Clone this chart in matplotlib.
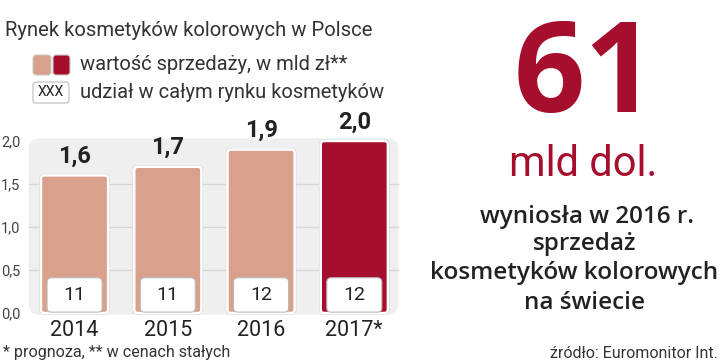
import matplotlib
matplotlib.use("Agg")
import matplotlib.pyplot as plt
from matplotlib.patches import FancyBboxPatch
from matplotlib import font_manager

years = ["2014", "2015", "2016", "2017*"]
sales = [1.6, 1.7, 1.9, 2.0]
sales_labels = ["1,6", "1,7", "1,9", "2,0"]
share = [11, 11, 12, 12]
yticks = [0.0, 0.5, 1.0, 1.5, 2.0]
ytick_labels = ["0,0", "0,5", "1,0", "1,5", "2,0"]

LIGHT = "#d9a08b"
DARK = "#a50f2d"
TXT = "#222222"

avail = {f.name for f in font_manager.fontManager.ttflist}
def pick(*names):
    for n in names:
        if n in avail:
            return n
    return "DejaVu Sans"
NARROW = pick("Liberation Sans Narrow", "Roboto", "Liberation Sans")
SANS = pick("Open Sans", "Noto Sans", "DejaVu Sans")

fig = plt.figure(figsize=(7.2, 3.64), dpi=100)
fig.patch.set_facecolor("white")

# main chart axes
ax = fig.add_axes([27/720, (364-315.6)/364, 373/720, (315.6-135.8)/364])
ax.set_xlim(-0.51, 3.49)
ax.set_ylim(-0.03, 2.06)
ax.patch.set_visible(False)
for s in ax.spines.values():
    s.set_visible(False)

panel = FancyBboxPatch((-0.49, -0.02), 3.96, 2.05,
                       boxstyle="round,pad=0,rounding_size=0.12",
                       fc="#efefef", ec="none", zorder=0)
ax.add_patch(panel)
for yv in yticks[1:-1]:
    ax.plot([-0.49, 3.47], [yv, yv], color="#d6d6d6", lw=1, zorder=1)

x = list(range(len(years)))
colors = [LIGHT, LIGHT, LIGHT, DARK]
bars = ax.bar(x, sales, width=0.72, color=colors)
for b, c in zip(bars, colors):
    bx, by, bw, bh = b.get_x(), b.get_y(), b.get_width(), b.get_height()
    b.set_visible(False)
    p = FancyBboxPatch((bx, by), bw, bh,
                       boxstyle="round,pad=0,rounding_size=0.04",
                       fc=c, ec="white", lw=1.8, zorder=2)
    ax.add_patch(p)
    p2 = FancyBboxPatch((bx - 0.012, by - 0.012), bw + 0.024, bh + 0.024,
                        boxstyle="round,pad=0,rounding_size=0.05",
                        fc="none", ec="#d0d0d0", lw=0.8, zorder=1.9)
    ax.add_patch(p2)

for xi, v, lab, sh in zip(x, sales, sales_labels, share):
    ax.annotate(lab, (xi, v), xytext=(0, 13.7), textcoords="offset points",
                ha="center", va="center", fontsize=17, fontweight="bold",
                family=NARROW, color=TXT, zorder=5)
    box = FancyBboxPatch((xi - 0.295, 0.01), 0.59, 0.40,
                         boxstyle="round,pad=0,rounding_size=0.05",
                         fc="white", ec="#bbbbbb", lw=0.8, zorder=3)
    ax.add_patch(box)
    ax.text(xi, 0.205, str(sh), ha="center", va="center", fontsize=14,
            family=NARROW, color=TXT, zorder=4)

ax.set_xticks(x)
ax.set_xticklabels(years, fontsize=15.5, family=NARROW, color=TXT)
ax.tick_params(axis="x", length=0, pad=3)
ax.set_yticks(yticks)
ax.set_yticklabels(ytick_labels, fontsize=10.5, family=NARROW, color="#444444")
ax.tick_params(axis="y", length=0, pad=18.5)
for t in ax.get_yticklabels():
    t.set_ha("left")

# overlay axes in pixel coordinates
ov = fig.add_axes([0, 0, 1, 1])
ov.set_xlim(0, 720)
ov.set_ylim(364, 0)
ov.axis("off")
ov.patch.set_visible(False)

ov.text(5, 30, "Rynek kosmetyków kolorowych w Polsce", fontsize=14.6,
        family=NARROW, color="#333333", va="center", ha="left")

ov.add_patch(FancyBboxPatch((33, 55), 18, 20, boxstyle="round,pad=0,rounding_size=3",
                            fc=LIGHT, ec="#cccccc", lw=0.8))
ov.add_patch(FancyBboxPatch((53, 55), 17, 20, boxstyle="round,pad=0,rounding_size=3",
                            fc=DARK, ec="#cccccc", lw=0.8))
ov.text(80, 65, "wartość sprzedaży, w mld zł**", fontsize=14.5, family=NARROW,
        color="#333333", va="center", ha="left")
ov.add_patch(FancyBboxPatch((33, 82), 36, 21, boxstyle="round,pad=0,rounding_size=3",
                            fc="white", ec="#bbbbbb", lw=0.8))
ov.text(51, 92.5, "XXX", fontsize=10, family=NARROW, color=TXT,
        va="center", ha="center")
ov.text(80, 92, "udział w całym rynku kosmetyków", fontsize=14.5, family=NARROW,
        color="#333333", va="center", ha="left")

ov.text(3, 353, "* prognoza, ** w cenach stałych", fontsize=11.6, family=NARROW,
        color="#333333", va="center", ha="left")

ov.text(585, 79, "61", fontsize=90, fontweight="bold", family=SANS,
        color=DARK, va="center", ha="center")
ov.text(583, 164, "mld dol.", fontsize=30, family=NARROW, color=DARK,
        va="center", ha="center")
ov.text(587, 217, "wyniosła w 2016 r.", fontsize=17.5, fontweight="semibold",
        family=SANS, color=TXT, va="center", ha="center")
ov.text(585, 244, "sprzedaż", fontsize=17.5, fontweight="semibold",
        family=SANS, color=TXT, va="center", ha="center")
ov.text(574, 273, "kosmetyków kolorowych", fontsize=17.5, fontweight="semibold",
        family=SANS, color=TXT, va="center", ha="center")
ov.text(585, 303, "na świecie", fontsize=17.5, fontweight="semibold",
        family=SANS, color=TXT, va="center", ha="center")
ov.text(718, 353, "źródło: Euromonitor Int.", fontsize=11.5, family=NARROW,
        color="#333333", va="center", ha="right")

fig.savefig("out.png", dpi=100)
